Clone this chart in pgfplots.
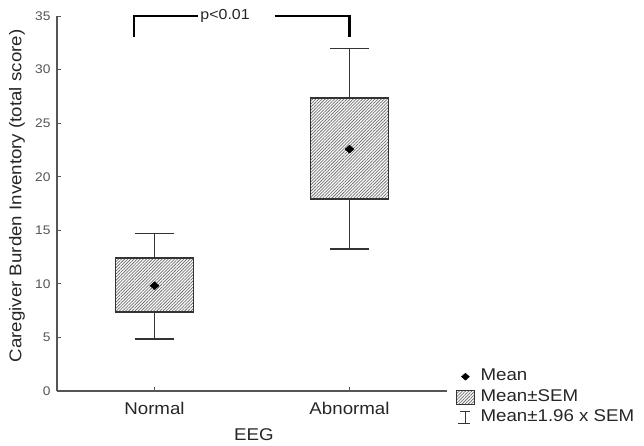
\documentclass[border=0pt]{standalone}
\usepackage{fontspec}
\setmainfont{Liberation Sans}[FakeStretch=1.1]
\usepackage{pgfplots}
\pgfplotsset{compat=1.18}
\usetikzlibrary{patterns.meta}
\definecolor{axgray}{HTML}{555555}
\definecolor{boxgray}{HTML}{333333}
\definecolor{hatch}{HTML}{707070}
\tikzset{hatchfill/.style={pattern={Lines[angle=45,distance=2.2bp,line width=0.75bp]}, pattern color=hatch}}
\pgfplotstableread{
pos lw lq mean uq uw
1 4.88 7.40 9.83 12.39 14.69
2 13.26 17.90 22.57 27.33 31.96
}\stats
\begin{document}
\begin{tikzpicture}
\begin{axis}[
  scale only axis, width=390bp, height=375bp,
  xmin=0.5, xmax=2.5, ymin=0, ymax=35,
  axis x line*=bottom, axis y line*=left,
  axis line style={axgray, line width=1.2bp, -},
  xtick={1,2}, xticklabels={Normal,Abnormal},
  ytick={0,5,...,35},
  tick align=inside, major tick length=4bp,
  tick style={axgray, line width=0.8bp},
  /pgf/number format/assume math mode=true,
  yticklabel style={font=\fontsize{12.5bp}{14bp}\selectfont, text=axgray, xshift=-3bp},
  xticklabel style={font=\fontsize{17bp}{20bp}\selectfont, text=black!85, yshift=-8bp},
  ylabel={Caregiver Burden Inventory (total score)},
  xlabel={EEG},
  label style={font=\fontsize{17bp}{20bp}\selectfont, text=black!85},
  ylabel style={at={(axis description cs:-0.1026,0.52)}, anchor=center},
  xlabel style={at={(axis description cs:0.505,-0.117)}, anchor=center},
  clip=false,
  legend style={at={(axis description cs:1.022,0.066)}, anchor=north west,
    draw=none, fill=none, inner sep=0pt, row sep=0bp, column sep=4bp,
    font=\fontsize{17bp}{20bp}\selectfont, text=black!85,
    nodes={inner sep=1.5bp, text height=13bp, text depth=4.5bp}},
  legend cell align=left,
]
% boxes (mean +/- SEM)
\addplot[forget plot, hatchfill, draw=boxgray, line width=1.6bp, line join=miter]
  coordinates {(0.8,7.40) (1.2,7.40) (1.2,12.39) (0.8,12.39) (0.8,7.40)} -- cycle;
\addplot[forget plot, hatchfill, draw=boxgray, line width=1.6bp, line join=miter]
  coordinates {(1.8,17.90) (2.2,17.90) (2.2,27.33) (1.8,27.33) (1.8,17.90)} -- cycle;
% whiskers (mean +/- 1.96 SEM)
\addplot[forget plot, boxgray, line width=1.6bp] coordinates {(1,12.39) (1,14.69)};
\addplot[forget plot, boxgray, line width=1.6bp] coordinates {(0.9,14.69) (1.1,14.69)};
\addplot[forget plot, boxgray, line width=1.6bp] coordinates {(1,7.40) (1,4.88)};
\addplot[forget plot, boxgray, line width=1.6bp] coordinates {(0.9,4.88) (1.1,4.88)};
\addplot[forget plot, boxgray, line width=1.6bp] coordinates {(2,27.33) (2,31.96)};
\addplot[forget plot, boxgray, line width=1.6bp] coordinates {(1.9,31.96) (2.1,31.96)};
\addplot[forget plot, boxgray, line width=1.6bp] coordinates {(2,17.90) (2,13.26)};
\addplot[forget plot, boxgray, line width=1.6bp] coordinates {(1.9,13.26) (2.1,13.26)};
% means
\addplot[forget plot, only marks, mark=diamond*, mark size=4bp, black,
  mark options={xscale=1.5}] table[x=pos, y=mean] {\stats};
% significance bracket
\addplot[forget plot, black, line width=2.2bp, line join=miter]
  coordinates {(0.893,33) (0.893,35) (1.224,35)};
\addplot[forget plot, black, line width=2.2bp, line join=miter]
  coordinates {(1.616,35) (2,35) (2,33)};
\node[font=\fontsize{14.5bp}{16bp}\selectfont, text=black!85, anchor=base] at (axis cs:1.362,34.67) {p<0.01};
\addlegendimage{legend image code/.code={\fill[black] (9bp,3.5bp)--(13bp,0bp)--(9bp,-3.5bp)--(5bp,0bp)--cycle;}}
\addlegendentry{Mean}
\addlegendimage{legend image code/.code={\draw[hatchfill, draw=boxgray, line width=1.3bp] (0bp,-7bp) rectangle (18bp,7bp);}}
\addlegendentry{Mean±SEM}
\addlegendimage{legend image code/.code={\draw[boxgray, line width=1.1bp] (9bp,-6bp)--(9bp,6bp) (4bp,6bp)--(14bp,6bp) (2bp,-6bp)--(14bp,-6bp);}}
\addlegendentry{Mean±1.96 x SEM}
\end{axis}
\pgfresetboundingbox
\path[use as bounding box] (-57bp,-55bp) rectangle (587bp,391bp);
\end{tikzpicture}
\end{document}
